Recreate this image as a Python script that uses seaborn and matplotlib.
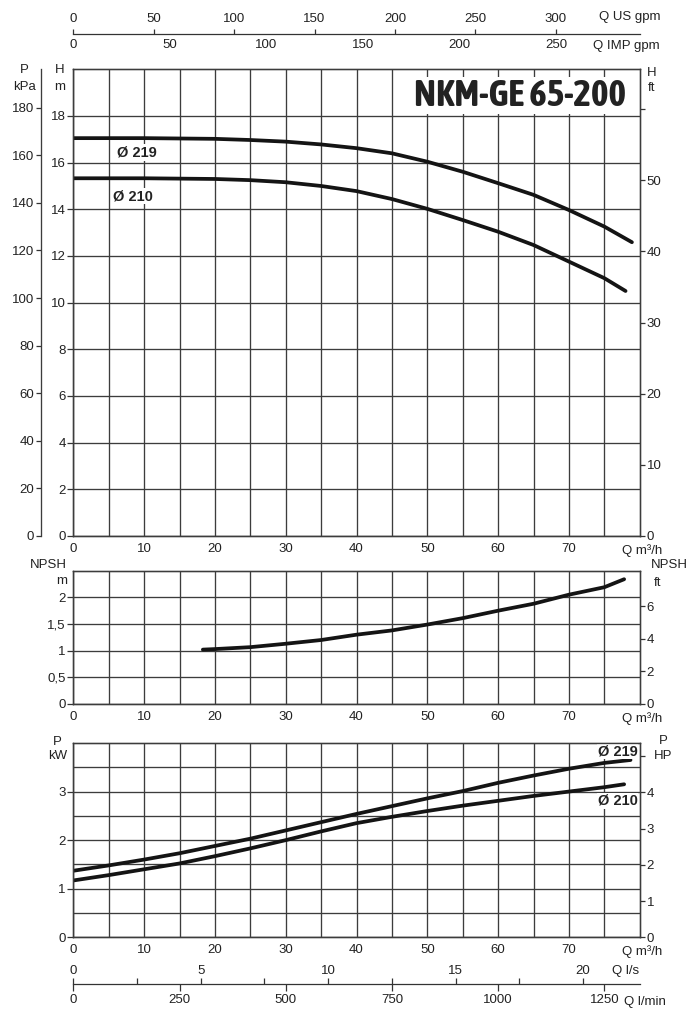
import seaborn as sns
import matplotlib.pyplot as plt
from matplotlib import font_manager as fm
from matplotlib.patches import Rectangle
from matplotlib.ticker import FixedLocator, FuncFormatter

# ------------------------------------------------------------
# values (Q in m3/h)
# ------------------------------------------------------------
# head curves, H in m
q_h219 = [0, 10, 20, 25, 30, 35, 40, 45, 50, 55, 60, 65, 70, 75, 78.9]
h_219 = [17.05, 17.05, 17.02, 16.97, 16.9, 16.78, 16.62, 16.4, 16.04, 15.61, 15.12, 14.62, 13.97, 13.26, 12.59]
q_h210 = [0, 10, 20, 25, 30, 35, 40, 45, 50, 55, 60, 65, 70, 75, 78.0]
h_210 = [15.33, 15.33, 15.3, 15.25, 15.16, 15.0, 14.78, 14.44, 14.02, 13.54, 13.04, 12.47, 11.76, 11.05, 10.5]

# NPSH in m
q_npsh = [18.3, 20, 25, 30, 35, 40, 45, 50, 55, 60, 65, 70, 75, 77.8]
npsh = [1.02, 1.03, 1.066, 1.13, 1.2, 1.3, 1.38, 1.49, 1.61, 1.75, 1.88, 2.05, 2.19, 2.34]

# power in kW
q_p219 = [0, 5, 10, 15, 20, 25, 30, 35, 40, 45, 50, 55, 60, 65, 70, 75, 78.7]
p_219 = [1.37, 1.48, 1.6, 1.73, 1.88, 2.03, 2.2, 2.37, 2.54, 2.7, 2.86, 3.01, 3.18, 3.33, 3.47, 3.59, 3.65]
q_p210 = [0, 5, 10, 15, 20, 25, 30, 35, 40, 45, 50, 55, 60, 65, 70, 75, 77.8]
p_210 = [1.17, 1.28, 1.4, 1.52, 1.67, 1.83, 2.0, 2.18, 2.35, 2.48, 2.6, 2.71, 2.81, 2.91, 3.0, 3.09, 3.15]

title = "NKM-GE 65-200"
diam_labels = ["Ø 219", "Ø 210"]

q_ticks = [0, 10, 20, 30, 40, 50, 60, 70]
h_ticks = [0, 2, 4, 6, 8, 10, 12, 14, 16, 18]
kpa_ticks = [0, 20, 40, 60, 80, 100, 120, 140, 160, 180]
hft_ticks = [0, 10, 20, 30, 40, 50, 60]
npsh_ticks = [0, 0.5, 1, 1.5, 2]
npsh_ft_ticks = [0, 2, 4, 6]
p_ticks = [0, 1, 2, 3]
hp_ticks = [0, 1, 2, 3, 4, 5]
usgpm_ticks = [0, 50, 100, 150, 200, 250, 300]
impgpm_ticks = [0, 50, 100, 150, 200, 250]
ls_ticks = [0, 5, 10, 15, 20]
lmin_ticks = [0, 250, 500, 750, 1000, 1250]

# unit conversions
US_GPM = 4.40287     # per m3/h
IMP_GPM = 3.66615    # per m3/h
LS = 1 / 3.6         # l/s per m3/h
LMIN = 1 / 0.06      # l/min per m3/h
KPA = 9.80665        # kPa per m
FT = 1 / 0.3048      # ft per m
HP = 1 / 0.7457      # HP per kW

QMAX = 80

# ------------------------------------------------------------
sns.set_theme(style="white")
plt.rcParams["font.family"] = ["Liberation Sans", "DejaVu Sans"]
plt.rcParams["text.color"] = "#222222"
plt.rcParams["xtick.color"] = "#333333"
plt.rcParams["ytick.color"] = "#333333"
plt.rcParams["xtick.labelcolor"] = "#222222"
plt.rcParams["ytick.labelcolor"] = "#222222"

GRID = "#3c3c3c"
CURVE = "#141414"
FS = 9.5
LW_CURVE = 2.7

W, H = 690, 1024
fig = plt.figure(figsize=(W / 100, H / 100), dpi=100)


def box(x0, y0, x1, y1):
    # pixel box (top-left origin) -> figure fraction rect
    return [x0 / W, 1 - y1 / H, (x1 - x0) / W, (y1 - y0) / H]


X0, X1 = 73.3, 639.7
ax_h = fig.add_axes(box(X0, 69.3, X1, 536))
ax_n = fig.add_axes(box(X0, 570.7, X1, 704))
ax_p = fig.add_axes(box(X0, 743, X1, 937.3))

comma = FuncFormatter(lambda v, pos: f"{v:g}".replace(".", ","))


def setup_main(ax, ymax, yticks, ygrid):
    ax.set_xlim(0, QMAX)
    ax.set_ylim(0, ymax)
    ax.xaxis.set_major_locator(FixedLocator(q_ticks))
    ax.xaxis.set_minor_locator(FixedLocator([5, 15, 25, 35, 45, 55, 65, 75]))
    ax.yaxis.set_major_locator(FixedLocator(yticks))
    ax.yaxis.set_minor_locator(FixedLocator(ygrid))
    ax.grid(which="both", color=GRID, linewidth=0.95)
    ax.set_axisbelow(True)
    ax.tick_params(axis="x", which="both", length=0, pad=4.8, labelsize=FS)
    ax.tick_params(axis="y", which="major", left=True, direction="out",
                   length=4.2, width=0.9, pad=1.2, labelsize=FS)
    ax.tick_params(axis="y", which="minor", length=0)
    for s in ax.spines.values():
        s.set_color(GRID)
        s.set_linewidth(0.95)
    ax.annotate("Q m³/h", xy=(1, 0), xycoords="axes fraction", xytext=(-12.7, -5.6),
                textcoords="offset points", ha="left", va="top", fontsize=FS)


def setup_right(ax, ymax, ticks, labels):
    tw = ax.twinx()
    tw.set_ylim(0, ymax)
    tw.set_yticks(ticks)
    tw.set_yticklabels(labels)
    tw.tick_params(axis="y", right=True, direction="out", length=3.8, width=0.9,
                   pad=1.2, labelsize=FS)
    tw.grid(False)
    for s in tw.spines.values():
        s.set_color(GRID)
        s.set_linewidth(0.95)
    return tw


# ---------------- head panel ----------------
setup_main(ax_h, 20, h_ticks, h_ticks)
sns.lineplot(x=q_h219, y=h_219, ax=ax_h, color=CURVE, linewidth=LW_CURVE, sort=False, estimator=None)
sns.lineplot(x=q_h210, y=h_210, ax=ax_h, color=CURVE, linewidth=LW_CURVE, sort=False, estimator=None)
ax_h.set_xlabel("")
ax_h.set_ylabel("")

setup_right(ax_h, 20 * FT, hft_ticks, [str(t) if t < 60 else "" for t in hft_ticks])

ax_kpa = ax_h.twinx()
ax_kpa.set_ylim(0, 20 * KPA)
ax_kpa.yaxis.tick_left()
ax_kpa.spines["left"].set_position(("axes", -0.0576))
for side in ["right", "top", "bottom"]:
    ax_kpa.spines[side].set_visible(False)
ax_kpa.spines["left"].set_color(GRID)
ax_kpa.spines["left"].set_linewidth(0.95)
ax_kpa.set_yticks(kpa_ticks)
ax_kpa.tick_params(axis="y", left=True, right=False, direction="out", length=3.6,
                   width=0.9, pad=1.2, labelsize=FS)
ax_kpa.grid(False)

ax_h.text(9.0, 16.44, diam_labels[0], ha="center", va="center", fontsize=10.5,
          fontweight="bold", bbox=dict(fc="white", ec="none", pad=1.0))
ax_h.text(8.4, 14.57, diam_labels[1], ha="center", va="center", fontsize=10.5,
          fontweight="bold", bbox=dict(fc="white", ec="none", pad=1.0))


# title: pick a narrow bold face if the system has one, then fit it to the box width
def wnum(w):
    return w if isinstance(w, int) else fm.weight_dict.get(w, 400)


faces = fm.fontManager.ttflist
narrow_bold = sorted(
    [f for f in faces if ("Narrow" in f.name or "Condensed" in f.name) and wnum(f.weight) >= 600],
    key=lambda f: abs(wnum(f.weight) - 700))
if narrow_bold:
    title_kw = dict(family=[narrow_bold[0].name, "DejaVu Sans"], fontweight=wnum(narrow_bold[0].weight))
elif any(f.name == "DejaVu Sans" and f.stretch == "condensed" and wnum(f.weight) >= 600 for f in faces):
    title_kw = dict(family=["DejaVu Sans"], fontweight="bold", fontstretch="condensed")
else:
    title_kw = dict(family=["Liberation Sans", "DejaVu Sans"], fontweight="bold")

ax_h.add_patch(Rectangle((47.3, 18.08), 31.0, 1.6, facecolor="white", edgecolor="none", zorder=1.5))
t_title = ax_h.text(63.1, 18.84, title, ha="center", va="center", fontsize=27, zorder=3, **title_kw)
fig.canvas.draw()
tw_px = t_title.get_window_extent().width
t_title.set_fontsize(min(36, 27 * 212 / tw_px))

# ---------------- NPSH panel ----------------
setup_main(ax_n, 2.5, npsh_ticks, npsh_ticks)
ax_n.yaxis.set_major_formatter(comma)
sns.lineplot(x=q_npsh, y=npsh, ax=ax_n, color=CURVE, linewidth=LW_CURVE, sort=False, estimator=None)
ax_n.set_xlabel("")
ax_n.set_ylabel("")
setup_right(ax_n, 2.5 * FT, npsh_ft_ticks, [str(t) for t in npsh_ft_ticks])

# ---------------- power panel ----------------
setup_main(ax_p, 4, p_ticks, [0.5, 1, 1.5, 2, 2.5, 3, 3.5])
sns.lineplot(x=q_p219, y=p_219, ax=ax_p, color=CURVE, linewidth=LW_CURVE, sort=False, estimator=None)
sns.lineplot(x=q_p210, y=p_210, ax=ax_p, color=CURVE, linewidth=LW_CURVE, sort=False, estimator=None)
ax_p.set_xlabel("")
ax_p.set_ylabel("")
setup_right(ax_p, 4 * HP, hp_ticks, [str(t) if t < 5 else "" for t in hp_ticks])

ax_p.text(79.7, 3.82, diam_labels[0], ha="right", va="center", fontsize=10.5,
          fontweight="bold", bbox=dict(fc="white", ec="none", pad=0.5), zorder=4)
ax_p.text(79.7, 2.81, diam_labels[1], ha="right", va="center", fontsize=10.5,
          fontweight="bold", bbox=dict(fc="white", ec="none", pad=0.5), zorder=4)


# ---------------- flow scales ----------------
def flow_scale(ypix, xmax, ticks, side, length, pad, minor=None):
    a = fig.add_axes(box(X0, ypix, X1, ypix + 0.05))
    a.patch.set_alpha(0)
    a.set_xlim(0, xmax)
    a.set_yticks([])
    for s in a.spines.values():
        s.set_visible(False)
    a.set_xticks(ticks)
    if minor is not None:
        a.xaxis.set_minor_locator(FixedLocator(minor))
    top = side == "top"
    a.tick_params(axis="x", which="both", top=top, bottom=not top, labeltop=top,
                  labelbottom=not top, direction="out", length=length, width=0.9,
                  pad=pad, labelsize=FS, color="#333333")
    return a


us = flow_scale(34, QMAX * US_GPM, usgpm_ticks, "top", 3.6, 3.0)
us.spines["bottom"].set_visible(True)
us.spines["bottom"].set_color("#333333")
us.spines["bottom"].set_linewidth(0.9)
flow_scale(34, QMAX * IMP_GPM, impgpm_ticks, "bottom", 0, 3.7)

ls = flow_scale(984, QMAX * LS, ls_ticks, "top", 4.1, 0.6, minor=[2.5, 7.5, 12.5, 17.5])
ls.spines["bottom"].set_visible(True)
ls.spines["bottom"].set_color("#333333")
ls.spines["bottom"].set_linewidth(0.9)
flow_scale(984, QMAX * LMIN, lmin_ticks, "bottom", 4.8, 2.4)

# ---------------- axis captions ----------------
def cap(x, y, s, ha="center"):
    fig.text(x / W, 1 - y / H, s, ha=ha, va="center", fontsize=FS)


cap(24, 70, "P")
cap(24, 87, "kPa")
cap(60, 70, "H")
cap(60, 87, "m")
cap(652, 73, "H")
cap(652, 88, "ft")
cap(599, 17, "Q US gpm", ha="left")
cap(593, 46.5, "Q IMP gpm", ha="left")

cap(48, 565, "NPSH")
cap(62, 581, "m")
cap(669, 565, "NPSH")
cap(658, 583, "ft")

cap(57, 742, "P")
cap(58, 756, "kW")
cap(663, 741, "P")
cap(663, 756, "HP")

cap(612, 971, "Q l/s", ha="left")
cap(624, 1001.5, "Q l/min", ha="left")

fig.savefig("out.png", dpi=100)
